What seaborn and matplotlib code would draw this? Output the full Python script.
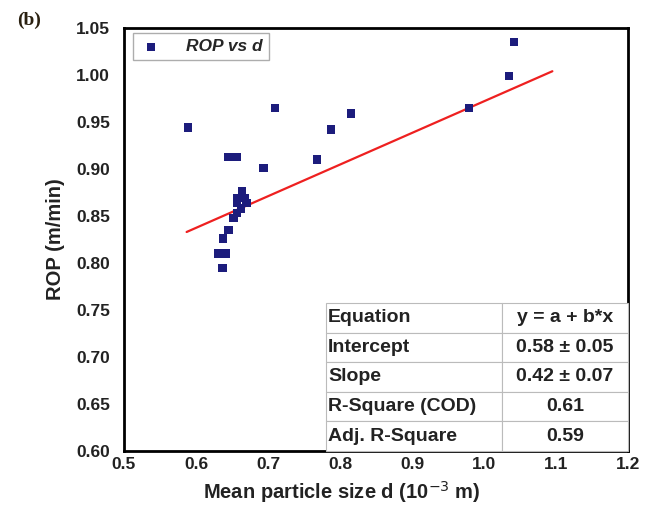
import numpy as np
import pandas as pd
import matplotlib
matplotlib.use("Agg")
import matplotlib.pyplot as plt
import matplotlib.ticker as ticker
import seaborn as sns

# datos
d = [0.589, 0.710, 0.645, 0.657, 0.694, 0.768, 0.788, 0.815, 0.979, 1.035, 1.042,
     0.664, 0.657, 0.668, 0.657, 0.670, 0.663, 0.657, 0.652, 0.645, 0.638, 0.631, 0.641, 0.637]
rop = [0.944, 0.965, 0.913, 0.913, 0.901, 0.910, 0.942, 0.959, 0.965, 0.999, 1.035,
       0.876, 0.869, 0.869, 0.864, 0.864, 0.858, 0.853, 0.848, 0.835, 0.826, 0.810, 0.810, 0.795]
fit_x = [0.587, 1.095]
fit_y = [0.833, 1.004]

table_rows = ["Equation", "Intercept", "Slope", "R-Square (COD)", "Adj. R-Square"]
table_vals = ["y = a + b*x", "0.58 \u00b1 0.05", "0.42 \u00b1 0.07", "0.61", "0.59"]

xticks = [0.5, 0.6, 0.7, 0.8, 0.9, 1.0, 1.1, 1.2]
yticks = [0.60, 0.65, 0.70, 0.75, 0.80, 0.85, 0.90, 0.95, 1.00, 1.05]

sns.set_theme(style="white")
plt.rcParams['font.family'] = ['Liberation Sans', 'DejaVu Sans']

df = pd.DataFrame({"d": d, "rop": rop})
fit = pd.DataFrame({"x": fit_x, "y": fit_y})

fig = plt.figure(figsize=(6.57, 5.11), dpi=100)
ax = fig.add_axes([0.1887, 0.1174, 0.7671, 0.8278])

sns.scatterplot(data=df, x="d", y="rop", marker="s", s=36, color="#1c1c7c",
                edgecolor="none", label="ROP vs d", ax=ax, zorder=3)
sns.lineplot(data=fit, x="x", y="y", color="#ee2020", linewidth=1.6, ax=ax, zorder=2)

ax.set_xlim(0.5, 1.2)
ax.set_ylim(0.60, 1.05)
ax.set_xticks(xticks)
ax.set_yticks(yticks)
ax.xaxis.set_major_formatter(ticker.FormatStrFormatter('%.1f'))
ax.yaxis.set_major_formatter(ticker.FormatStrFormatter('%.2f'))
ax.tick_params(axis='x', length=0, labelsize=12.5, pad=4)
ax.tick_params(axis='y', length=0, labelsize=12.5, pad=10)
for lab in ax.get_xticklabels() + ax.get_yticklabels():
    lab.set_fontweight('bold')
    lab.set_color('#222222')

ax.set_xlabel("Mean particle size d (10$^{-3}$ m)", fontsize=14.5, fontweight='bold',
              color='#222222')
ax.set_ylabel("ROP (m/min)", fontsize=14.5, fontweight='bold', color='#222222')
ax.xaxis.set_label_coords(0.433, -0.066)
ax.yaxis.set_label_coords(-0.118, 0.50)
for sp in ax.spines.values():
    sp.set_color('black')
    sp.set_linewidth(2)

leg = ax.legend(loc="upper left", bbox_to_anchor=(0.018, 0.988), borderaxespad=0,
                fancybox=False, frameon=True, edgecolor='#999999',
                handlelength=1.4, handletextpad=1.3, borderpad=0.35,
                prop={'weight': 'bold', 'style': 'italic', 'size': 12.5})
leg.get_frame().set_linewidth(1)

cells = [[r, v] for r, v in zip(table_rows, table_vals)]
tab = ax.table(cellText=cells, colWidths=[0.583, 0.417],
               bbox=[0.40, 0.0, 0.60, 0.35], zorder=4)
tab.auto_set_font_size(False)
for (r, c), cell in tab.get_celld().items():
    cell.set_edgecolor('#bbbbbb')
    cell.set_linewidth(0.8)
    cell.set_facecolor('white')
    txt = cell.get_text()
    txt.set_fontsize(14)
    txt.set_fontweight('bold')
    txt.set_color('#222222')
    if c == 0:
        cell.set_text_props(ha='left')
        cell.PAD = 0.015
    else:
        cell.set_text_props(ha='center')

fig.text(0.026, 0.952, "(b)", fontsize=14, fontweight='bold',
         family=['Liberation Serif', 'DejaVu Serif'], color='#2a2010')

fig.savefig("out.png", dpi=100)
